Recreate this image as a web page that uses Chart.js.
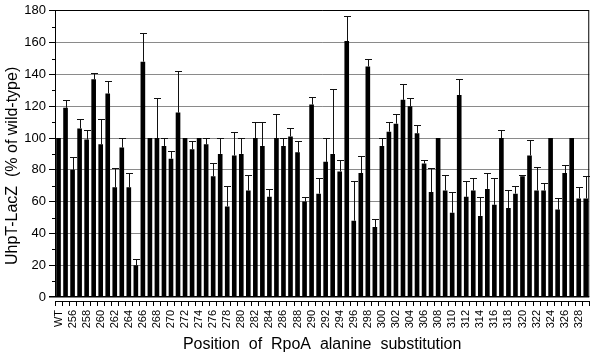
<!DOCTYPE html>
<html><head><meta charset="utf-8">
<script src="https://cdn.jsdelivr.net/npm/chart.js@4/dist/chart.umd.min.js"></script>
<style>html,body{margin:0;padding:0;background:#fff}#wrap{width:603px;height:358px}</style>
</head><body><div id="wrap"><canvas id="c" width="603" height="358"></canvas></div>
<script>
const categories = ['WT','255','256','257','258','259','260','261','262','263','264','265','266','267','268','269','270','271','272','273','274','275','276','277','278','279','280','281','282','283','284','285','286','287','288','289','290','291','292','293','294','295','296','297','298','299','300','301','302','303','304','305','306','307','308','309','310','311','312','313','314','315','316','317','318','319','320','321','322','323','324','325','326','327','328','329'];
const tickLabels = ['WT','256','258','260','262','264','266','268','270','272','274','276','278','280','282','284','286','288','290','292','294','296','298','300','302','304','306','308','310','312','314','316','318','320','322','324','326','328'];
const values = [100,119,80,106,99,137,96,128,69,94,69,20,148,100,100,95,87,116,100,93,100,96,76,90,57,89,90,67,100,95,63,100,95,101,91,60,121,65,85,90,79,161,48,78,145,44,95,104,109,124,120,103,84,66,100,67,53,127,63,67,51,68,58,100,56,65,76,89,67,67,100,55,78,100,62,62];
const errorTop = [100,124,88,112,105,141,112,136,81,100,78,24,166,100,125,100,92,142,100,98,100,100,84,100,70,104,100,77,110,110,68,115,100,106,98,63,126,75,100,131,86,177,73,89,150,49,100,110,115,134,125,108,86,81,100,77,66,137,73,75,63,78,75,105,67,70,77,99,82,72,100,62,83,100,69,76];
const yTicks = [0,20,40,60,80,100,120,140,160,180];
const yMinorTicks = [10,30,50,70,90,110,130,150,170];
const yTitle = 'UhpT-LacZ  (% of wild-type)';

Chart.defaults.font.family = "'Liberation Sans', Arial, sans-serif";
Chart.defaults.color = '#000';

const decor = {
  id: 'decor',
  afterDatasetsDraw(chart) {
    const ctx = chart.ctx, meta = chart.getDatasetMeta(0), ys = chart.scales.y;
    ctx.save();
    ctx.strokeStyle = '#111';
    ctx.lineWidth = 1;
    meta.data.forEach((bar, i) => {
      if (errorTop[i] <= values[i]) return;
      const x = Math.round(bar.x) + 0.5;
      const y0 = ys.getPixelForValue(values[i]);
      const y1 = Math.round(ys.getPixelForValue(errorTop[i])) + 0.5;
      ctx.beginPath();
      ctx.moveTo(x, y0); ctx.lineTo(x, y1);
      ctx.moveTo(x - 3.5, y1); ctx.lineTo(x + 3.5, y1);
      ctx.stroke();
    });
    const a = chart.chartArea;
    const yTop = ys.getPixelForValue(180), yZero = ys.getPixelForValue(0);
    ctx.strokeStyle = '#000';
    ctx.beginPath();
    ctx.moveTo(a.left + 0.5, yTop); ctx.lineTo(a.left + 0.5, yZero);
    ctx.moveTo(a.right - 0.5, yTop); ctx.lineTo(a.right - 0.5, yZero);
    yMinorTicks.forEach(v => {
      const yy = Math.round(ys.getPixelForValue(v)) + 0.5;
      ctx.moveTo(a.left - 3, yy); ctx.lineTo(a.left, yy);
    });
    ctx.stroke();
    // y axis title, centred a little below the plot's middle as in the original
    ctx.translate(13, (yTop + yZero) / 2 + 12);
    ctx.rotate(-Math.PI / 2);
    ctx.fillStyle = '#000';
    ctx.font = "16px 'Liberation Sans', Arial, sans-serif";
    ctx.textAlign = 'center';
    ctx.textBaseline = 'middle';
    ctx.fillText(yTitle, 0, 0);
    ctx.restore();
  }
};

new Chart(document.getElementById('c'), {
  type: 'bar',
  data: {
    labels: categories,
    datasets: [{ data: values, backgroundColor: '#000', borderWidth: 0, barPercentage: 0.66, categoryPercentage: 1 }]
  },
  options: {
    responsive: false,
    animation: false,
    layout: { padding: { left: 0, right: 8, top: 7, bottom: 0 } },
    plugins: { legend: { display: false }, tooltip: { enabled: false } },
    scales: {
      x: {
        afterFit: s => { s.height = 57; },
        grid: { display: true, drawOnChartArea: false, drawTicks: true, tickLength: 5, color: '#000', offset: true },
        border: { display: true, color: '#000', width: 1 },
        ticks: {
          autoSkip: false, maxRotation: 90, minRotation: 90, padding: 4,
          font: { size: 11 }, color: '#000',
          callback: function (val, idx) { return tickLabels.includes(categories[idx]) ? categories[idx] : ''; }
        },
        title: { display: true, text: 'Position  of  RpoA  alanine  substitution', font: { size: 16 }, color: '#000', padding: { top: 0, bottom: 4 } }
      },
      y: {
        min: -2.5, max: 180,
        afterFit: s => { s.width = 55; },
        afterBuildTicks: s => { s.ticks = yTicks.map(v => ({ value: v })); },
        grid: {
          color: c => (c.tick && (c.tick.value === 0 || c.tick.value === 180)) ? '#000' : '#8a8a8a',
          lineWidth: c => (c.tick && c.tick.value === 0) ? 1.5 : 1,
          tickColor: '#000', tickLength: 6, drawTicks: true
        },
        border: { display: false },
        ticks: { font: { size: 13 }, color: '#000', padding: 3 },
        title: { display: false }
      }
    }
  },
  plugins: [decor]
});
</script>
</body></html>
